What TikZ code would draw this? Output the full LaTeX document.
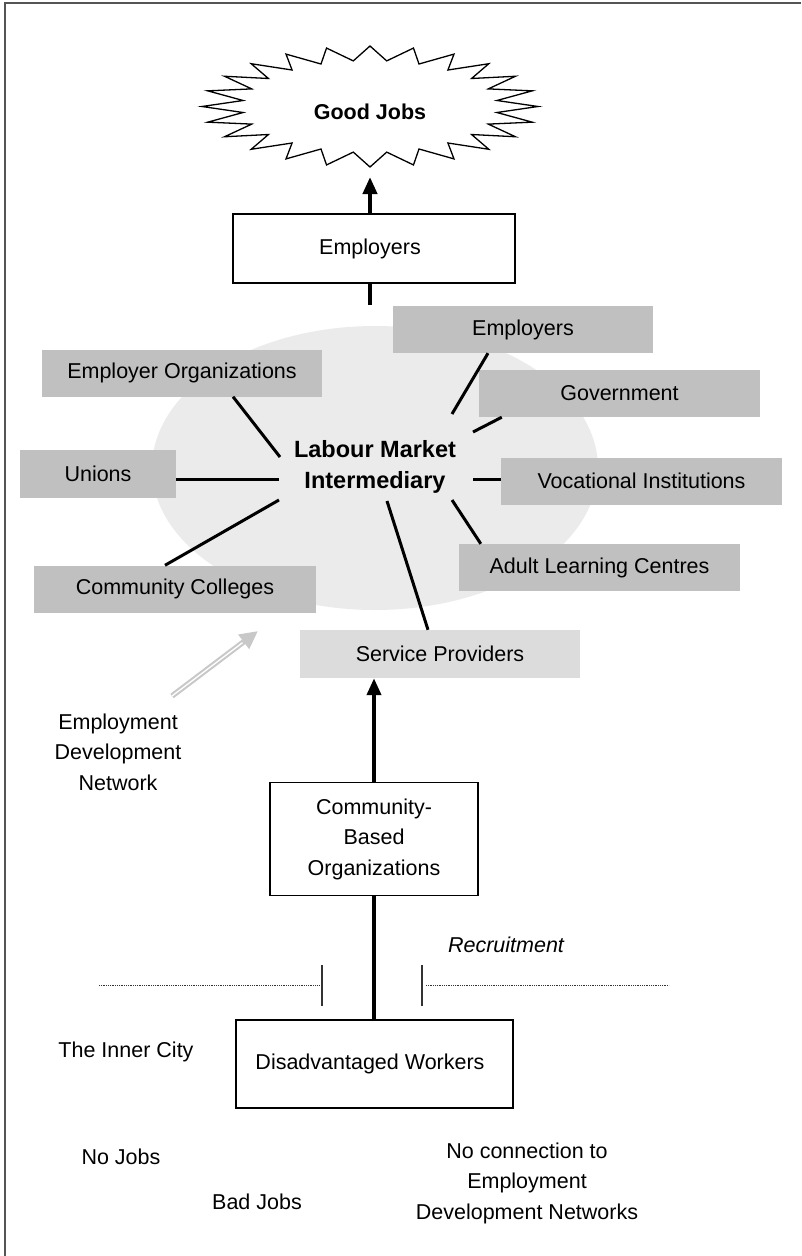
\documentclass[tikz,border=0pt]{standalone}
\usepackage{fontspec}
\setmainfont{Liberation Sans}
\usetikzlibrary{arrows.meta,calc}
\definecolor{boxgrey}{HTML}{C0C0C0}
\definecolor{spgrey}{HTML}{DCDCDC}
\definecolor{ellgrey}{HTML}{EBEBEB}
\definecolor{arrgrey}{HTML}{C8C8C8}
\definecolor{framegrey}{HTML}{555555}
\newcommand\dfont{\fontsize{21.5}{30.5}\selectfont}
\tikzset{
  txt/.style={font=\dfont, inner sep=0pt, align=center},
  wbox/.style={draw=black, line width=1.3pt, fill=white, font=\dfont, inner sep=0pt, align=center},
  gbox/.style={fill=boxgrey, font=\dfont, inner sep=0pt, minimum width=281, minimum height=47, align=center},
  spbox/.style={fill=spgrey, font=\dfont, inner sep=0pt, minimum width=280, minimum height=48, align=center},
  spoke/.style={line width=3pt, black},
  bigarrow/.style={line width=4pt, -{Triangle[length=17pt,width=14pt]}},
  bigline/.style={line width=4pt},
  dotline/.style={line width=0.8pt, dash pattern=on 0.9pt off 0.9pt, black!80},
  tick/.style={line width=1.2pt, black!80},
  framestyle/.style={line width=2pt, framegrey}
}
\begin{document}
\begin{tikzpicture}[x=1pt, y=-1pt]
\useasboundingbox (0,0) rectangle (801,1256);
% frame
\draw[framestyle] (801,3) -- (5,3) -- (5,1256);

% starburst
\draw[line width=1.3pt, fill=white] (538,106.5)
  \foreach \k in {0,...,23} {
    -- ({370+128*cos(\k*15+7.5)},{106.5-46*sin(\k*15+7.5)})
    -- ({370+168*cos(\k*15+15)},{106.5-60.5*sin(\k*15+15)})
  } -- cycle;
\node[txt, font=\dfont\bfseries] (good) at (370,112) {Good Jobs};
\coordinate (gjtip) at (370,177);

% top employers box
\node[wbox, minimum width=282, minimum height=69] (emp) at (374,248.5) {\hspace{-8pt}Employers};
\draw[bigarrow] ($(emp.north)+(-4,0)$) -- (gjtip);
\coordinate (stubend) at (370,305);
\draw[bigline] ($(emp.south)+(-4,0)$) -- (stubend);

% ellipse
\fill[ellgrey] (375,468) ellipse [x radius=223, y radius=142];

% grey boxes
\node[spbox] (sp) at (440,654) {Service Providers};
\node[gbox, minimum width=260] (empr) at (523,329.5) {Employers};
\node[gbox, minimum width=280] (eo) at (182,373) {Employer Organizations};
\node[gbox] (gov) at (619.5,393.5) {Government};
\node[gbox, minimum width=156, minimum height=48] (unions) at (98,473.5) {Unions};
\node[gbox] (voc) at (641.5,481) {Vocational Institutions};
\node[gbox] (alc) at (599.5,567.5) {Adult Learning Centres};
\node[gbox, minimum width=282] (cc) at (175,589) {Community Colleges};

% hub
\node[txt, font=\fontsize{23.5}{31}\selectfont\bfseries] (lmi) at (375,467) {Labour Market\\Intermediary};
\coordinate (heo) at (280,457);
\coordinate (hun) at (279,479);
\coordinate (hcc) at (279,500);
\coordinate (hem) at (452,414);
\coordinate (hgv) at (473,432);
\coordinate (hvo) at (473,479);
\coordinate (hal) at (452,500);
\coordinate (hsp) at (387,501);

\draw[spoke] ($(eo.south)+(51,0)$) -- (heo);
\draw[spoke] ($(unions.east)+(0,5.5)$) -- (hun);
\draw[spoke] ($(cc.north)+(-10,0)$) -- (hcc);
\draw[spoke] ($(empr.south)+(-35,0)$) -- (hem);
\draw[spoke] ($(gov.south west)+(23,0)$) -- (hgv);
\draw[spoke] ($(voc.west)+(0,-2)$) -- (hvo);
\draw[spoke] ($(alc.north west)+(22,0)$) -- (hal);
\draw[spoke] ($(sp.north)+(-12,0)$) -- (hsp);

% grey double arrow
\coordinate (gtail) at (172,696);
\coordinate (ghead) at (258,631);
\draw[arrgrey, line width=5.5pt, -{Triangle[length=18pt,width=17pt]}] (gtail) -- (ghead);
\draw[white, line width=1.3pt] (gtail) -- ($(gtail)!0.82!(ghead)$);
\node[txt] (edn) at (118,752) {Employment\\Development\\Network};

% community-based organizations
\node[wbox, minimum width=208, minimum height=113] (cbo) at (374,839) {Community-\\Based\\Organizations};
\draw[bigarrow] (cbo.north) -- (cbo.north |- sp.south);

% disadvantaged workers
\node[wbox, minimum width=277, minimum height=88] (dw) at (374.5,1064) {\hspace{-9pt}Disadvantaged Workers};
\draw[bigline] (cbo.south) -- (cbo.south |- dw.north);

% recruitment
\coordinate (dl1) at (99,985);
\coordinate (dl2) at (320,985);
\coordinate (dr1) at (426,985);
\coordinate (dr2) at (669,985);
\draw[dotline] (dl1) -- (dl2);
\draw[dotline] (dr1) -- (dr2);
\coordinate (tl1) at (322,965);
\coordinate (tl2) at (322,1006);
\coordinate (tr1) at (422,965);
\coordinate (tr2) at (422,1006);
\draw[tick] (tl1) -- (tl2);
\draw[tick] (tr1) -- (tr2);
\node[txt, font=\dfont\itshape] (rec) at (506,945) {Recruitment};

% bottom texts
\node[txt] (inner) at (126,1052) {The Inner City};
\node[txt] (nojobs) at (121,1157) {No Jobs};
\node[txt] (badjobs) at (257,1202) {Bad Jobs};
\node[txt] (noconn) at (527,1183) {No connection to\\Employment\\Development Networks};
\end{tikzpicture}
\end{document}
